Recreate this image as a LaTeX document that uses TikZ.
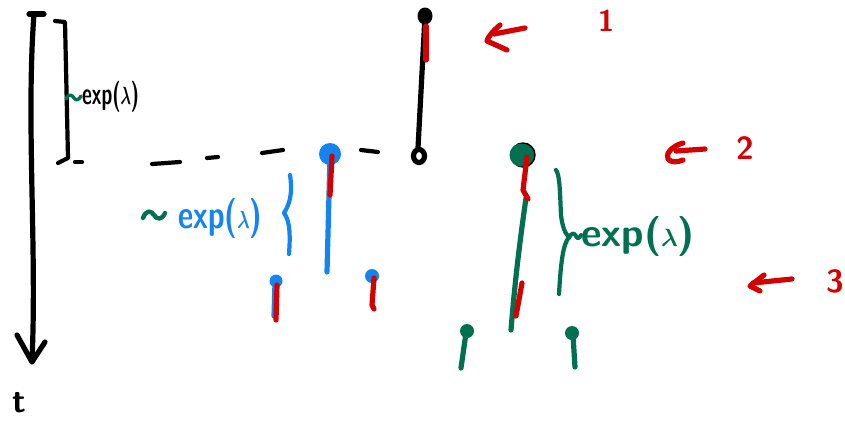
\documentclass[tikz,border=0pt]{standalone}
\usetikzlibrary{decorations.pathreplacing}
\definecolor{pred}{RGB}{213,0,0}
\definecolor{pblue}{RGB}{20,132,240}
\definecolor{pgreen}{RGB}{0,112,80}
\begin{document}
\begin{tikzpicture}[x=1pt,y=-1pt,line cap=round,line join=round,
  pen/.style={line width=5.2pt},
  thin pen/.style={line width=4.2pt},
  hand/.style={inner sep=0pt, transform shape},
  hf/.style={font=\sffamily\bfseries\boldmath\fontsize{#1}{#1}\selectfont}]
\useasboundingbox[fill=white] (0,0) rectangle (845,426);
% time axis
\draw[pen] (29,14) -- (44,14);
\draw[pen] (34,14) .. controls (26,120) and (37,250) .. (32,360);
\draw[pen] (17,335) -- (32,362) -- (45,342);
\node[hand,hf=34] (t) at (19,403) {t};
% left bracket
\draw[thin pen] (55,21) -- (65,22) -- (68,158) -- (58,163);
\draw[line width=3.4pt,pgreen] (66,99) .. controls (69,93) and (72,95) .. (74,98) .. controls (76,101) and (79,100) .. (81,96);
\node[hand,hf=31,xscale=0.62,anchor=west] (lab0) at (82,97) {exp($\lambda$)};
% dashed level line
\draw[thin pen] (75,162) -- (82,162);
\draw[thin pen] (152,164) -- (180,162);
\draw[thin pen] (207,158) -- (218,157);
\draw[thin pen] (262,153) -- (283,150);
\draw[thin pen] (361,150) -- (378,152);
% black top event
\fill (425,16) ellipse (7.5pt and 8.5pt);
\draw[pen] (425,16) -- (418,148);
\draw[pen,fill=white] (419,156) ellipse (5.5pt and 6.5pt);
\draw[pen,pred] (426,26) -- (426,60);
% red arrows & numbers
\draw[pen,pred] (525,28) -- (494,34);
\draw[pen,pred] (500,25) .. controls (492,32) and (488,37) .. (487,41) -- (507,50);
\node[hand,hf=30,text=pred] (n1) at (606,21) {1};
\draw[pen,pred] (705,149) -- (676,151);
\draw[pen,pred] (683,143) .. controls (672,146) and (665,154) .. (668,159) .. controls (671,163) and (678,162) .. (683,160);
\node[hand,hf=32,text=pred] (n2) at (745,148) {2};
\draw[pen,pred] (792,279) -- (753,283);
\draw[pen,pred] (764,275) -- (750,286) -- (760,291);
\node[hand,hf=32,text=pred] (n3) at (835,281) {3};
% blue branch
\fill[pblue] (330,154) circle (11pt);
\draw[pen,pblue] (330,156) -- (327,272);
\draw[pen,pred] (332,156) -- (330,195);
\draw[line width=4.4pt,pgreen] (143,218) .. controls (146,210) and (151,210) .. (154,215) .. controls (157,220) and (162,220) .. (165,213);
\node[hand,hf=40,xscale=0.74,anchor=west,text=pblue] (lab1) at (178,218) {exp($\lambda$)};
\draw[thin pen,pblue] (290,175) .. controls (293,195) and (289,205) .. (284,213) .. controls (291,222) and (290,240) .. (289,254);
\fill[pblue] (276,281) circle (6.5pt);
\draw[pen,pblue] (275,283) -- (274,316);
\draw[pen,pred] (277,285) -- (276,320);
\fill[pblue] (372,276) circle (7pt);
\draw[pen,pred] (374,278) -- (372,305) -- (374,309);
% green branch
\draw[line width=1.4pt,fill=pgreen] (523,155) circle (12pt);
\fill[pgreen] (521,155) circle (11.5pt);
\draw[pen,pgreen] (526,198) .. controls (520,240) and (515,280) .. (511,330);
\draw[pen,pred] (527,157) -- (523,190) -- (528,199);
\draw[pen,pred] (522,283) -- (516,316);
\draw[thin pen,pgreen] (556,170) .. controls (560,175) and (560,195) .. (561,215) .. controls (562,225) and (565,234) .. (569,237) .. controls (563,245) and (561,260) .. (559,294);
\draw[line width=4pt,pgreen] (569,238) .. controls (571,233) and (574,232) .. (576,236) .. controls (577,239) and (579,239) .. (581,235);
\node[hand,hf=40,anchor=west,text=pgreen] (lab2) at (581,236) {exp($\lambda$)};
\fill[pgreen] (467,331) circle (7pt);
\draw[pen,pgreen] (466,333) -- (461,368);
\fill[pgreen] (572,333) circle (7pt);
\draw[pen,pgreen] (573,335) -- (575,367);
\end{tikzpicture}
\end{document}
